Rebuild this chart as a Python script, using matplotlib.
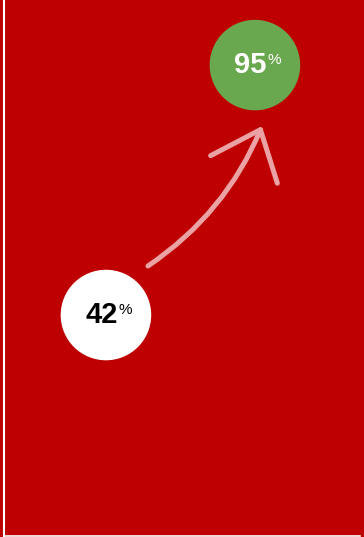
import matplotlib
matplotlib.use("Agg")
import matplotlib.pyplot as plt
from matplotlib.lines import Line2D
from matplotlib.transforms import offset_copy

# ---------------------------------------------------------------- datos
stages = ["antes", "despues"]
values = [42, 95]
fill_colors = ["#ffffff", "#6aa84f"]
text_colors = ["#000000", "#ffffff"]

# ---------------------------------------------------------------- estilo
RED = "#bf0000"
ARROW = "#eaa2a4"

plt.rcParams["font.family"] = ["Liberation Sans", "DejaVu Sans"]

fig = plt.figure(figsize=(3.64, 5.37), dpi=100, facecolor=RED)
ax = fig.add_axes([0, 0, 1, 1])
ax.set_facecolor(RED)
ax.set_xlim(-0.711, 1.732)
ax.set_ylim(-5.07, 108.8)
ax.axis("off")

x = list(range(len(stages)))
ax.scatter(x, values, s=4250, c=fill_colors, edgecolors="none", zorder=3)

for xi, v, tc in zip(x, values, text_colors):
    ax.annotate(f"{v}", (xi, v), xytext=(-15, 0), textcoords="offset points",
                ha="left", va="center", fontsize=21, fontweight="bold",
                color=tc, zorder=4)
    ax.annotate("%", (xi, v), xytext=(9.2, 3.5), textcoords="offset points",
                ha="left", va="center", fontsize=11, color=tc, zorder=4)

# flecha dibujada a mano: sale del circulo inferior y llega bajo el superior
start = offset_copy(ax.transData, fig=fig, x=42, y=49, units="dots")
tip = offset_copy(ax.transData, fig=fig, x=7, y=-61, units="dots")
ax.annotate("", xy=(x[1], values[1]), xycoords=tip,
            xytext=(x[0], values[0]), textcoords=start,
            arrowprops=dict(arrowstyle="->,head_length=3.1,head_width=2.6",
                            mutation_scale=10, color=ARROW, lw=3.6,
                            connectionstyle="arc3,rad=0.15",
                            shrinkA=0, shrinkB=0, capstyle="round"),
            zorder=2)

# bordes blancos
fig.add_artist(Line2D([4.2 / 364, 4.2 / 364], [1.5 / 537, 1], color="white",
                      lw=1.5, transform=fig.transFigure))
fig.add_artist(Line2D([4.2 / 364, 360 / 364], [1.5 / 537, 1.5 / 537],
                      color="white", lw=1.2, transform=fig.transFigure))

fig.savefig("out.png", dpi=100, facecolor=RED)
